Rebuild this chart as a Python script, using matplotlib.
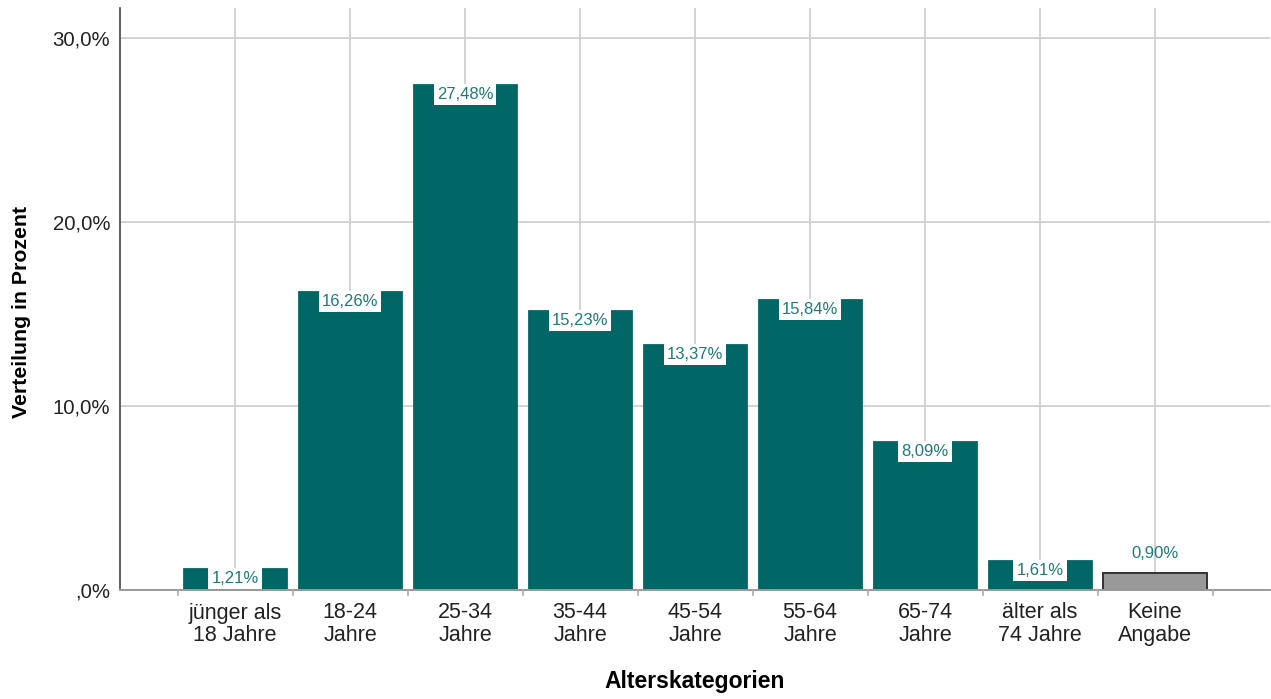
import matplotlib
matplotlib.use("Agg")
import matplotlib.pyplot as plt

plt.rcParams['font.family'] = ['Liberation Sans', 'DejaVu Sans']

categories = ["jünger als\n18 Jahre", "18-24\nJahre", "25-34\nJahre", "35-44\nJahre",
              "45-54\nJahre", "55-64\nJahre", "65-74\nJahre", "älter als\n74 Jahre",
              "Keine\nAngabe"]
values = [1.21, 16.26, 27.48, 15.23, 13.37, 15.84, 8.09, 1.61, 0.90]
y_ticks = [0, 10, 20, 30]
y_tick_labels = [",0%", "10,0%", "20,0%", "30,0%"]

teal = "#006666"
label_color = "#1f7a78"
grid_color = "#cccccc"

fig = plt.figure(figsize=(12.71, 6.99), dpi=100)
ax = fig.add_axes([120 / 1271, 1 - 590 / 699, 1150 / 1271, 582 / 699])

x = list(range(len(values)))
colors = [teal] * (len(values) - 1) + ["#999999"]
edges = ["#0d6a6a"] * (len(values) - 1) + ["#333333"]
lws = [0.6] * (len(values) - 1) + [1.4]
ax.bar(x, values, width=0.905, color=colors, edgecolor=edges, linewidth=lws, zorder=2)

ax.set_xlim(-1.0, 9.0)
ax.set_ylim(0, 31.63)

# grid
for yy in y_ticks[1:]:
    ax.axhline(yy, color=grid_color, lw=1.2, zorder=0)
for xx in x:
    ax.axvline(xx, color=grid_color, lw=1.2, zorder=0)

ax.set_yticks(y_ticks)
ax.set_yticklabels(y_tick_labels, fontsize=14.7, color="#222222")
ax.tick_params(axis='y', length=0, pad=7)

ax.set_xticks(x)
ax.set_xticklabels(categories, fontsize=15.5, color="#222222", linespacing=1.12)
ax.tick_params(axis='x', length=0, pad=9)
# category boundary ticks
for b in [i - 0.5 for i in range(len(values) + 1)]:
    ax.plot([b, b], [0, -0.25], color="#aaaaaa", lw=1.2, clip_on=False, zorder=3)

for s in ["top", "right"]:
    ax.spines[s].set_visible(False)
ax.spines["bottom"].set_color("#999999")
ax.spines["bottom"].set_linewidth(1.4)
ax.spines["left"].set_color("#444444")
ax.spines["left"].set_linewidth(1.2)

# value labels
for i, v in enumerate(values):
    txt = f"{v:.2f}%".replace(".", ",")
    if i == len(values) - 1:
        ax.annotate(txt, (i, v), xytext=(0, 9), textcoords="offset points",
                    ha="center", va="bottom", fontsize=12, color=label_color, zorder=4)
    else:
        ax.annotate(txt, (i, v), xytext=(0, -2.2), textcoords="offset points",
                    ha="center", va="top", fontsize=12, color=label_color, zorder=4,
                    bbox=dict(boxstyle="square,pad=0.18", fc="white", ec="none"))

ax.set_ylabel("Verteilung in Prozent", fontsize=15.3, fontweight="bold")
ax.yaxis.set_label_coords(-0.0774, 0.478)
ax.set_xlabel("Alterskategorien", fontsize=16.5, fontweight="bold")
ax.xaxis.set_label_coords(0.4996, -0.138)

fig.savefig("out.png", dpi=100)
